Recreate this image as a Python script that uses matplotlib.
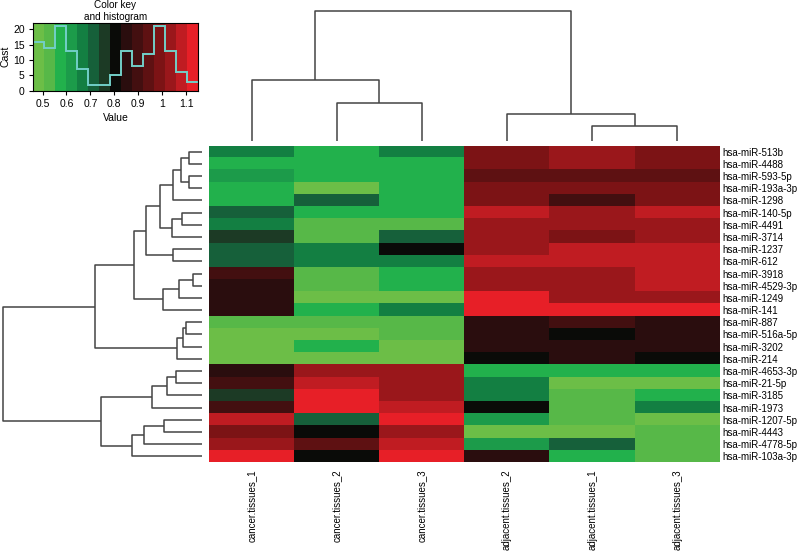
import numpy as np
import matplotlib.pyplot as plt
from matplotlib.colors import ListedColormap, BoundaryNorm

plt.rcParams['font.family'] = ['Liberation Sans', 'DejaVu Sans']

# ---- data ----
mirnas = ["hsa-miR-513b", "hsa-miR-4488", "hsa-miR-593-5p", "hsa-miR-193a-3p",
          "hsa-miR-1298", "hsa-miR-140-5p", "hsa-miR-4491", "hsa-miR-3714",
          "hsa-miR-1237", "hsa-miR-612", "hsa-miR-3918", "hsa-miR-4529-3p",
          "hsa-miR-1249", "hsa-miR-141", "hsa-miR-887", "hsa-miR-516a-5p",
          "hsa-miR-3202", "hsa-miR-214", "hsa-miR-4653-3p", "hsa-miR-21-5p",
          "hsa-miR-3185", "hsa-miR-1973", "hsa-miR-1207-5p", "hsa-miR-4443",
          "hsa-miR-4778-5p", "hsa-miR-103a-3p"]
samples = ["cancer.tissues_1", "cancer.tissues_2", "cancer.tissues_3",
           "adjacent.tissues_2", "adjacent.tissues_1", "adjacent.tissues_3"]

# expression values, one row per miRNA, columns in sample order above
values = np.array([
    [0.66, 0.57, 0.66, 0.99, 1.03, 0.99],
    [0.57, 0.57, 0.57, 0.99, 1.03, 0.99],
    [0.62, 0.57, 0.57, 0.94, 0.94, 0.94],
    [0.57, 0.48, 0.57, 0.99, 0.99, 0.99],
    [0.57, 0.71, 0.57, 0.99, 0.89, 0.99],
    [0.71, 0.57, 0.57, 1.08, 1.03, 1.08],
    [0.66, 0.53, 0.53, 1.03, 1.03, 1.03],
    [0.76, 0.53, 0.71, 1.03, 0.99, 1.03],
    [0.71, 0.66, 0.80, 1.03, 1.08, 1.08],
    [0.71, 0.66, 0.66, 1.08, 1.08, 1.08],
    [0.89, 0.53, 0.57, 1.03, 1.03, 1.08],
    [0.85, 0.53, 0.57, 1.03, 1.03, 1.08],
    [0.85, 0.48, 0.48, 1.12, 1.03, 1.03],
    [0.85, 0.57, 0.66, 1.12, 1.12, 1.12],
    [0.53, 0.53, 0.53, 0.85, 0.89, 0.85],
    [0.48, 0.48, 0.53, 0.85, 0.80, 0.85],
    [0.48, 0.57, 0.48, 0.85, 0.85, 0.85],
    [0.48, 0.48, 0.48, 0.80, 0.85, 0.80],
    [0.85, 1.03, 1.03, 0.57, 0.57, 0.57],
    [0.89, 1.08, 1.03, 0.66, 0.48, 0.48],
    [0.76, 1.12, 1.03, 0.66, 0.53, 0.57],
    [0.89, 1.12, 1.08, 0.80, 0.53, 0.66],
    [1.08, 0.71, 1.12, 0.62, 0.53, 0.48],
    [0.99, 0.80, 1.03, 0.48, 0.48, 0.53],
    [1.03, 0.94, 1.08, 0.62, 0.71, 0.53],
    [1.12, 0.80, 1.12, 0.85, 0.57, 0.53],
])

# colour key bins and histogram counts
bin_edges = np.linspace(0.46, 1.15, 16)
hist_counts = [16, 14, 21, 13, 7, 2, 2, 5, 13, 8, 12, 21, 13, 6, 3]
key_colors = ["#6cbe47", "#57b848", "#22b14c", "#1c9b4a", "#137f42", "#16603a",
              "#1c3a25", "#0a0b08", "#2a0d0e", "#430f10", "#5e1112", "#7c1315",
              "#9a171b", "#c01c22", "#e71f27"]

# dendrograms: (left, right, merge height), leaves are row/column indices
col_tree = ((0, (1, 2, 38), 61), (3, (4, 5, 15), 27), 130)
row_a = ((((((0, 1, 12.7), (2, 3, 12.7), 20.7), 4, 28.7),
           ((5, 6, 19.7), 7, 29.7), 41.7), (8, 9, 28.7), 55.7),
         ((((10, 11, 8.7), 12, 23.0), 13, 39.3)), 67.7)
row_b = (((14, 15, 16.0), 16, 18.7), 17, 24.7)
row_c = (((18, 19, 25.7), 20, 34.7), 21, 50.0)
row_d = (((22, 23, 37.7), 24, 57.7), 25, 70.3)
row_tree = ((row_a, row_b, 107.3), (row_c, row_d, 100.7), 199.0)

# ---- figure ----
W, H = 799, 553
fig = plt.figure(figsize=(W / 100, H / 100), dpi=100)


def px_axes(x0, y0, x1, y1):
    return fig.add_axes([x0 / W, 1 - y1 / H, (x1 - x0) / W, (y1 - y0) / H])


cmap = ListedColormap(key_colors)
norm = BoundaryNorm(bin_edges, cmap.N)
line_kw = dict(color="#444444", lw=1.1, solid_capstyle="butt")


def draw_tree(ax, node, orient):
    if isinstance(node, int):
        return node, 0.0
    left, right, h = node
    p1, h1 = draw_tree(ax, left, orient)
    p2, h2 = draw_tree(ax, right, orient)
    if orient == "top":
        ax.plot([p1, p1, p2, p2], [h1, h, h, h2], **line_kw)
    else:
        ax.plot([h1, h, h, h2], [p1, p1, p2, p2], **line_kw)
    return (p1 + p2) / 2, h


# heatmap
ax = px_axes(209, 145.5, 720, 462.5)
ax.imshow(values, cmap=cmap, norm=norm, aspect="auto", interpolation="nearest")
ax.yaxis.tick_right()
ax.set_yticks(range(len(mirnas)))
ax.set_yticklabels(mirnas, fontsize=7)
ax.set_xticks(range(len(samples)))
ax.set_xticklabels(samples, rotation=90, fontsize=7, va="top")
ax.tick_params(length=0, pad=1.5)
ax.tick_params(axis="x", pad=5)
for s in ax.spines.values():
    s.set_visible(False)

# column dendrogram
axt = px_axes(209, 5, 720, 141)
draw_tree(axt, col_tree, "top")
axt.set_xlim(-0.5, len(samples) - 0.5)
axt.set_ylim(0, 136)
axt.axis("off")

# row dendrogram
axl = px_axes(0, 145.5, 202, 462.5)
draw_tree(axl, row_tree, "left")
axl.set_xlim(202, 0)
axl.set_ylim(len(mirnas) - 0.5, -0.5)
axl.axis("off")

# colour key with histogram
axk = px_axes(33, 22.7, 198, 90.7)
centers = (bin_edges[:-1] + bin_edges[1:]) / 2
axk.pcolormesh(bin_edges, [0, 22.2], centers[None, :], cmap=cmap, norm=norm)
axk.stairs(hist_counts, bin_edges, baseline=None, color="#72cfc8", lw=1.4)
axk.set_xlim(bin_edges[0], bin_edges[-1])
axk.set_ylim(0, 22.2)
axk.set_xticks([0.5, 0.6, 0.7, 0.8, 0.9, 1.0, 1.1])
axk.set_xticklabels(["0.5", "0.6", "0.7", "0.8", "0.9", "1", "1.1"])
axk.set_yticks([0, 5, 10, 15, 20])
axk.tick_params(labelsize=7.5, length=3, width=0.8, pad=3)
axk.set_xlabel("Value", fontsize=7.5, labelpad=3)
axk.set_ylabel("Cast", fontsize=7.5, labelpad=2)
axk.set_title("Color key\nand histogram", fontsize=7.2, pad=2, linespacing=1.25)
for s in axk.spines.values():
    s.set_linewidth(0.8)

fig.savefig("out.png", dpi=100)
